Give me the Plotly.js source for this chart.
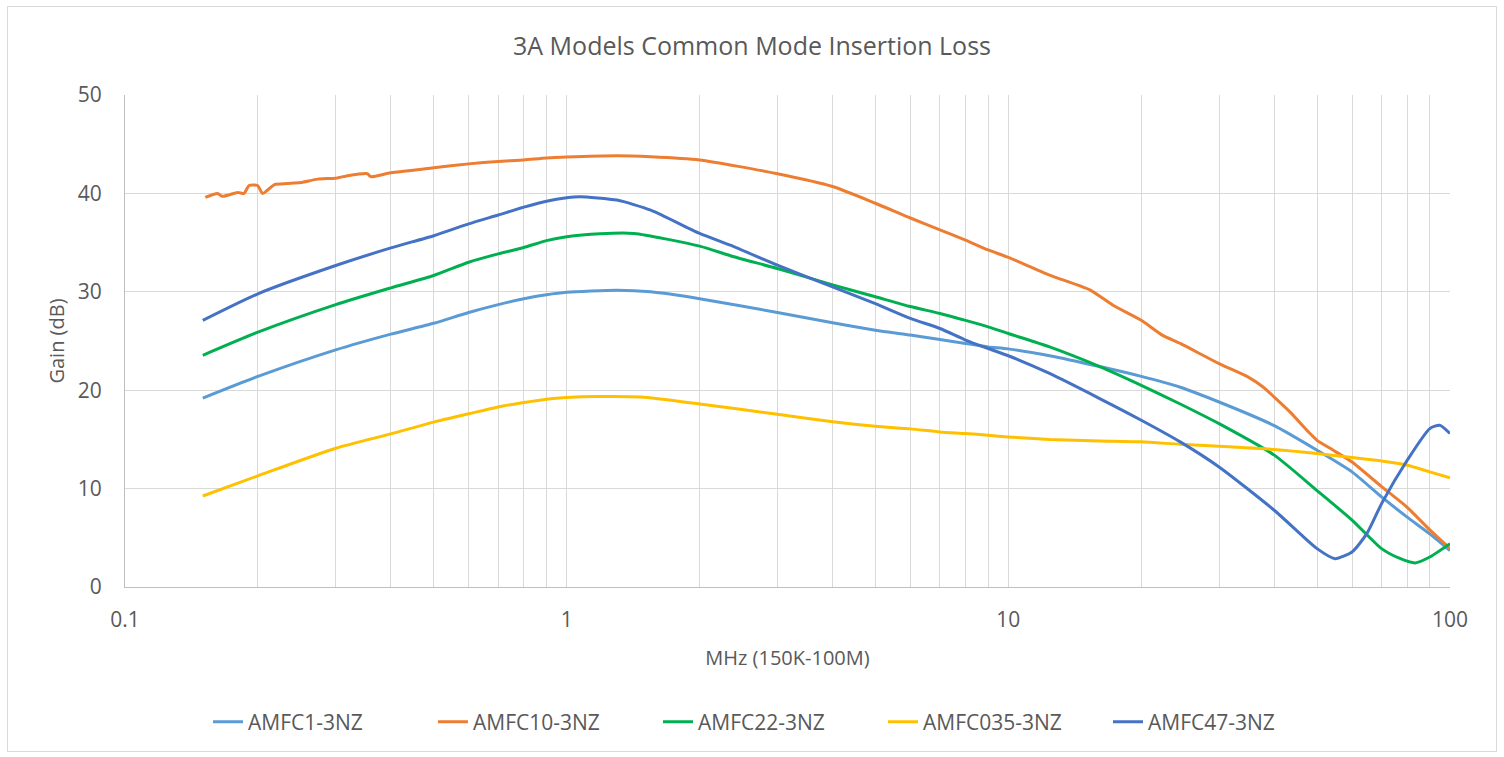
<!DOCTYPE html>
<html>
<head>
<meta charset="utf-8">
<script src="https://cdn.plot.ly/plotly-3.0.1.min.js"></script>
<style>
  html, body { margin: 0; padding: 0; background: #fff; }
  #frame { position: absolute; left: 7px; top: 6px; width: 1488px; height: 744px; border: 1px solid #d9d9d9; }
  #chart { width: 1488px; height: 744px; }
</style>
</head>
<body>
<div id="frame"><div id="chart"></div></div>
<script>
// ---- Data (MHz, dB) ----
const f_AMFC1 = [0.15, 0.2, 0.3, 0.4, 0.5, 0.6, 0.7, 0.8, 0.9, 1, 1.3, 1.55, 2, 3, 4, 5, 6, 7, 8, 9, 10, 12.4, 16.1, 20, 24.5, 30, 40, 50, 60, 70, 80, 90, 100];
const v_AMFC1 = [19.2, 21.4, 24.1, 25.7, 26.8, 27.9, 28.7, 29.3, 29.7, 29.95, 30.17, 30.0, 29.3, 27.9, 26.85, 26.1, 25.6, 25.15, 24.75, 24.4, 24.2, 23.5, 22.4, 21.4, 20.3, 18.8, 16.4, 13.9, 11.7, 9.15, 7.1, 5.4, 3.7];

const f_AMFC10 = [0.152, 0.162, 0.166, 0.18, 0.186, 0.191, 0.1996, 0.205, 0.218, 0.233, 0.25, 0.273, 0.3, 0.319, 0.354, 0.36, 0.4, 0.5, 0.6, 0.7, 0.8, 0.9, 1, 1.3, 1.55, 2, 3, 4, 5, 6, 7, 8, 9, 10, 12.4, 15.3, 17.3, 20, 22.3, 24.5, 30, 34.7, 37.8, 40, 43.4, 48.2, 50, 54.4, 60, 70, 80, 90, 100];
const v_AMFC10 = [39.6, 40.0, 39.7, 40.1, 40.0, 40.8, 40.8, 40.0, 40.9, 41.0, 41.1, 41.45, 41.55, 41.8, 42.0, 41.7, 42.1, 42.6, 43.0, 43.25, 43.4, 43.6, 43.7, 43.83, 43.73, 43.4, 42.0, 40.7, 39.0, 37.5, 36.3, 35.25, 34.25, 33.5, 31.7, 30.2, 28.6, 27.1, 25.6, 24.75, 22.7, 21.4, 20.3, 19.3, 17.8, 15.6, 14.9, 13.9, 12.7, 10.2, 8.1, 5.8, 3.9];

const f_AMFC22 = [0.15, 0.2, 0.3, 0.4, 0.5, 0.6, 0.7, 0.8, 0.9, 1, 1.19, 1.42, 2, 2.39, 3, 4, 5, 6, 7, 8, 9, 10, 12.4, 16.1, 20, 24.5, 30, 40, 50, 60, 70, 77, 83.4, 90, 100];
const v_AMFC22 = [23.55, 25.9, 28.7, 30.4, 31.66, 33.0, 33.85, 34.5, 35.2, 35.6, 35.9, 35.93, 34.64, 33.56, 32.37, 30.7, 29.5, 28.5, 27.8, 27.1, 26.44, 25.76, 24.4, 22.4, 20.5, 18.6, 16.6, 13.4, 9.8, 6.8, 3.9, 2.9, 2.45, 3.05, 4.4];

const f_AMFC035 = [0.15, 0.2, 0.3, 0.4, 0.5, 0.6, 0.7, 0.8, 0.9, 1, 1.17, 1.47, 2, 3, 4, 5, 6, 7, 8, 9, 10, 12.4, 16.1, 20, 24.5, 30, 40, 50, 60, 70, 80, 90, 100];
const v_AMFC035 = [9.25, 11.3, 14.1, 15.56, 16.76, 17.6, 18.3, 18.74, 19.08, 19.25, 19.35, 19.3, 18.6, 17.56, 16.8, 16.34, 16.07, 15.76, 15.6, 15.42, 15.25, 15.0, 14.85, 14.75, 14.5, 14.3, 13.97, 13.56, 13.15, 12.8, 12.37, 11.7, 11.1];

const f_AMFC47 = [0.15, 0.2, 0.3, 0.4, 0.5, 0.6, 0.7, 0.8, 0.9, 1, 1.07, 1.3, 1.55, 2, 2.39, 3, 4, 5, 6, 7, 8, 9, 10, 12.4, 16.1, 20, 24.5, 30, 40, 45.8, 50, 54.9, 60, 64.8, 70, 80, 90, 94.8, 100];
const v_AMFC47 = [27.1, 29.8, 32.67, 34.46, 35.7, 36.9, 37.8, 38.6, 39.2, 39.55, 39.66, 39.32, 38.3, 35.93, 34.6, 32.7, 30.5, 28.8, 27.3, 26.27, 25.1, 24.24, 23.5, 21.7, 19.15, 16.95, 14.75, 12.2, 7.8, 5.4, 3.9, 2.88, 3.56, 5.42, 8.47, 12.88, 16.1, 16.44, 15.6];

const seriesNames = ['AMFC1-3NZ', 'AMFC10-3NZ', 'AMFC22-3NZ', 'AMFC035-3NZ', 'AMFC47-3NZ'];
const seriesColors = ['#5B9BD5', '#ED7D31', '#00B050', '#FFC000', '#4472C4'];
const seriesX = [f_AMFC1, f_AMFC10, f_AMFC22, f_AMFC035, f_AMFC47];
const seriesY = [v_AMFC1, v_AMFC10, v_AMFC22, v_AMFC035, v_AMFC47];

const xTickVals = [0.1,0.2,0.3,0.4,0.5,0.6,0.7,0.8,0.9,1,2,3,4,5,6,7,8,9,10,20,30,40,50,60,70,80,90,100];
const xTickText = xTickVals.map(v => ([0.1,1,10,100].includes(v) ? String(v) : ''));

const FONT = '"Open Sans", "Noto Sans", sans-serif';
const TXT = '#595959';

const traces = seriesNames.map((n, i) => ({
  type: 'scatter', mode: 'lines', name: n,
  x: seriesX[i], y: seriesY[i],
  line: { color: seriesColors[i], width: 3, shape: 'spline', smoothing: 0.6 }
}));

const layout = {
  width: 1488, height: 744,
  margin: { l: 117, r: 46, t: 88, b: 164 },
  paper_bgcolor: '#ffffff', plot_bgcolor: '#ffffff',
  font: { family: FONT, color: TXT },
  title: { text: '3A Models Common Mode Insertion Loss', font: { size: 25, color: TXT, family: FONT }, x: 0.5, xanchor: 'center', y: 1 - 39/744, yanchor: 'middle' },
  xaxis: {
    type: 'log', range: [-1, 2],
    tickmode: 'array', tickvals: xTickVals, ticktext: xTickText,
    ticks: '', showgrid: true, gridcolor: '#d9d9d9', gridwidth: 1,
    showline: true, linecolor: '#bfbfbf', linewidth: 1, mirror: false,
    zeroline: false, tickfont: { size: 21, color: TXT }, ticklabelstandoff: 14,
    title: { text: 'MHz (150K-100M)', font: { size: 20, color: TXT }, standoff: 18 }
  },
  yaxis: {
    range: [0, 50], dtick: 10, tick0: 0,
    ticks: '', showgrid: true, gridcolor: '#d9d9d9', gridwidth: 1,
    showline: true, linecolor: '#bfbfbf', linewidth: 1,
    zeroline: false, tickfont: { size: 21, color: TXT }, ticklabelstandoff: 18,
    title: { text: 'Gain (dB)', font: { size: 20, color: TXT }, standoff: 7 }
  },
  legend: {
    orientation: 'h', xref: 'container', yref: 'container',
    x: 0.1344, xanchor: 'left', y: 0.039, yanchor: 'middle',
    font: { size: 21, color: TXT }, itemwidth: 30, tracegroupgap: 0, bgcolor: 'rgba(0,0,0,0)',
    entrywidth: 180, entrywidthmode: 'pixels'
  },
  showlegend: true
};

Plotly.newPlot('chart', traces, layout, { displayModeBar: false, staticPlot: true });
</script>
</body>
</html>
